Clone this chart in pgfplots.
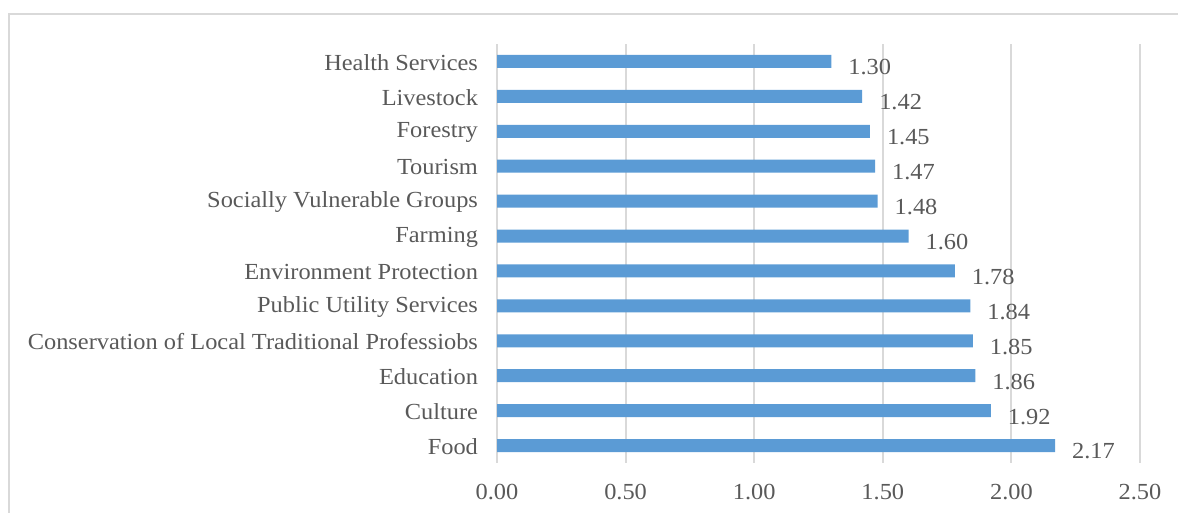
\documentclass[border=0pt]{standalone}
\usepackage{fontspec}
\setmainfont{Liberation Serif}[FakeStretch=1.06]
\usepackage{pgfplots}
\pgfplotsset{compat=1.18}
\definecolor{barc}{HTML}{5B9BD5}
\definecolor{gridc}{HTML}{D9D9D9}
\definecolor{txt}{HTML}{595959}
\begin{document}
\begin{tikzpicture}
\path[use as bounding box] (0pt,0pt) rectangle (589pt,256.5pt);
\draw[gridc, line width=1pt] (4.5pt,0pt) -- (4.5pt,249.5pt) -- (589pt,249.5pt);
\begin{axis}[
  at={(248.5pt,25pt)}, anchor=south west,
  scale only axis, width=321.5pt, height=209.5pt,
  xmin=0, xmax=2.5, ymin=-0.5, ymax=11.5,
  xbar, bar width=6.5pt,
  axis line style={draw=none},
  major tick length=0pt,
  xmajorgrids, grid style={gridc, line width=1pt},
  xtick={0,0.5,1,1.5,2,2.5},
  ytick={0,...,11},
  yticklabels={Food,Culture,Education,Conservation of Local Traditional Professiobs,Public Utility Services,Environment Protection,Farming,Socially Vulnerable Groups,Tourism,Forestry,Livestock,Health Services},
  /pgf/number format/.cd, fixed, fixed zerofill, precision=2, assume math mode=true,
  /pgfplots/.cd,
  ticklabel style={font=\fontsize{11.5}{13}\selectfont, text=txt},
  yticklabel style={xshift=-6pt, yshift=-0.5pt},
  xticklabel style={yshift=-7pt},
  nodes near coords,
  nodes near coords style={font=\fontsize{11.5}{13}\selectfont, text=txt, anchor=west, xshift=5pt, yshift=-3pt},
]
\addplot[fill=barc, draw=none] coordinates {
  (2.17,0) (1.92,1) (1.86,2) (1.85,3) (1.84,4) (1.78,5)
  (1.60,6) (1.48,7) (1.47,8) (1.45,9) (1.42,10) (1.30,11)
};
\end{axis}
\end{tikzpicture}
\end{document}
